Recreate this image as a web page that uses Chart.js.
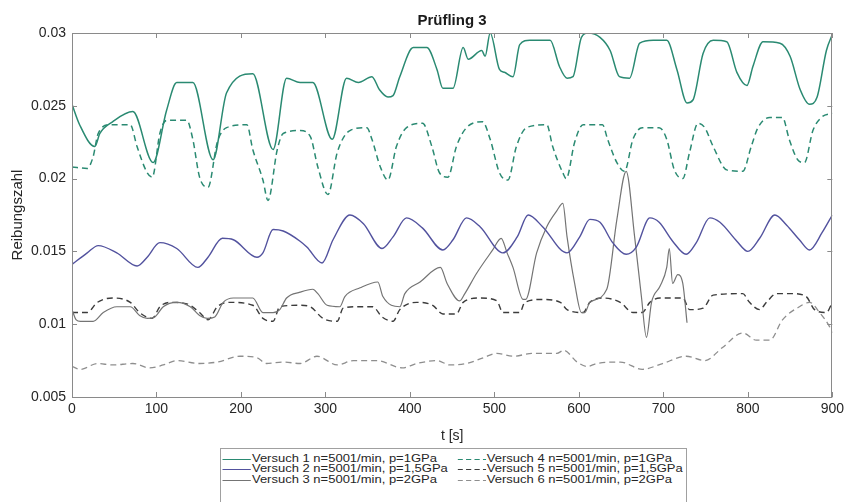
<!DOCTYPE html>
<html lang="de">
<head>
    <meta charset="UTF-8">
    <title>Prüfling 3</title>
    <script src="https://cdn.jsdelivr.net/npm/chart.js"></script>
    <style>
        body { margin: 0; background: #fff; font-family: "Liberation Sans", Arial, sans-serif; }
        #wrap { position: relative; width: 848px; height: 502px; overflow: hidden; }
        #title { position: absolute; left: 352px; top: 11px; width: 200px; text-align: center;
                 font-weight: bold; font-size: 15px; line-height: 17px; color: #1a1a1a; }
        #legend { position: absolute; left: 220px; top: 448px; width: 465px; height: 56px;
                  border: 1px solid #a0a0a0; background: #fff; }
        #legendInner { position: absolute; left: 0; top: 0; width: 358px; height: 54px;
                       transform: scaleX(1.3); transform-origin: 0 0; }
        .row { position: absolute; height: 10.5px; line-height: 10.5px; font-size: 10px; color: #262626; white-space: nowrap; }
        .row svg { position: absolute; top: 0; }
        .row span { position: absolute; top: 0; }
    </style>
</head>
<body>
<div id="wrap">
    <canvas id="chart" width="848" height="502"></canvas>
    <div id="title">Prüfling 3</div>
    <div id="legend"><div id="legendInner"></div></div>
</div>

<script>
    // values, [t in s, Reibungszahl]
    const versuch1 = [[0,0.0251],[9,0.0237],[27,0.0222],[33,0.0231],[48,0.0239],[72,0.0246],[96,0.0211],[112,0.0247],[124,0.0266],[143,0.0266],
        [167,0.0213],[183,0.0259],[214,0.0272],[238,0.0220],[254,0.0269],[270,0.0266],[285,0.0266],[308,0.0227],[325,0.0269],[339,0.0266],
        [355,0.0270],[364,0.0261],[374,0.0256],[380,0.0257],[388,0.0270],[404,0.0290],[420,0.0290],[432,0.0275],[439,0.0262],[451,0.0262],
        [463,0.0290],[469,0.0282],[485,0.0288],[489,0.0284],[495,0.0300],[506,0.0275],[512,0.0273],[522,0.0270],[530,0.0292],[542,0.0295],
        [566,0.0295],[577,0.0277],[586,0.0269],[593,0.0270],[603,0.0297],[611,0.0300],[625,0.0297],[637,0.0288],[648,0.0270],[660,0.0269],
        [672,0.0293],[688,0.0295],[704,0.0295],[716,0.0275],[728,0.0252],[735,0.0254],[747,0.0286],[759,0.0295],[775,0.0294],[787,0.0273],
        [799,0.0264],[806,0.0277],[818,0.0294],[838,0.0293],[850,0.0284],[862,0.0261],[873,0.0251],[882,0.0256],[893,0.0288],[900,0.0299]];

    const versuch2 = [[0,0.0141],[18,0.0149],[31,0.0154],[53,0.0149],[77,0.0140],[89,0.0146],[104,0.0156],[124,0.0152],[149,0.0139],[161,0.0146],
        [178,0.0159],[191,0.0158],[219,0.0146],[226,0.0149],[238,0.0165],[250,0.0164],[270,0.0157],[278,0.0153],[296,0.0142],[309,0.0158],
        [329,0.0175],[345,0.0169],[367,0.0152],[380,0.0160],[396,0.0173],[415,0.0166],[439,0.0151],[451,0.0158],[467,0.0173],[483,0.0167],
        [510,0.0149],[527,0.0160],[540,0.0175],[557,0.0167],[586,0.0149],[601,0.0160],[613,0.0172],[625,0.0170],[640,0.0156],[656,0.0148],
        [668,0.0153],[684,0.0173],[695,0.0170],[711,0.0157],[727,0.0148],[739,0.0156],[755,0.0173],[767,0.0170],[787,0.0157],[800,0.0150],
        [814,0.0159],[832,0.0175],[846,0.0168],[861,0.0158],[873,0.0151],[888,0.0163],[900,0.0175]];

    const versuch3 = [[0,0.0110],[5,0.0103],[10,0.0102],[25,0.0102],[37,0.0108],[53,0.0112],[69,0.0112],[80,0.0106],[89,0.0104],[98,0.0105],
        [108,0.0112],[124,0.0115],[140,0.0112],[151,0.0106],[160,0.0104],[169,0.0105],[179,0.0115],[191,0.0118],[214,0.0118],[226,0.0108],
        [238,0.0108],[246,0.0110],[254,0.0118],[270,0.0122],[285,0.0124],[291,0.0121],[302,0.0113],[317,0.0112],[323,0.0119],[341,0.0125],
        [362,0.0129],[368,0.0119],[388,0.0112],[394,0.0121],[412,0.0129],[436,0.0139],[444,0.0128],[459,0.0116],[465,0.0121],[479,0.0135],
        [498,0.0151],[508,0.0159],[515,0.0149],[522,0.0139],[534,0.0117],[537,0.0117],[550,0.0149],[562,0.0167],[574,0.0178],[581,0.0183],
        [586,0.0160],[595,0.0128],[603,0.0108],[607,0.0108],[613,0.0115],[633,0.0124],[645,0.0172],[656,0.0205],[666,0.0160],[674,0.0119],
        [680,0.0091],[686,0.0115],[696,0.0126],[704,0.0139],[707,0.0152],[711,0.0128],[717,0.0134],[723,0.0128],[728,0.0101]];

    const versuch4 = [[0,0.0208],[18,0.0207],[25,0.0215],[31,0.0231],[45,0.0237],[69,0.0237],[77,0.0222],[89,0.0204],[95,0.0201],[104,0.0231],
        [112,0.0240],[136,0.0240],[143,0.0227],[151,0.0201],[161,0.0194],[172,0.0225],[183,0.0235],[207,0.0237],[214,0.0220],[226,0.0199],
        [232,0.0185],[243,0.0220],[250,0.0231],[270,0.0233],[282,0.0229],[291,0.0208],[303,0.0189],[314,0.0218],[329,0.0233],[349,0.0235],
        [355,0.0227],[365,0.0208],[374,0.0199],[384,0.0222],[396,0.0235],[415,0.0238],[426,0.0222],[435,0.0204],[445,0.0201],[455,0.0222],
        [467,0.0235],[486,0.0239],[495,0.0227],[506,0.0204],[516,0.0199],[526,0.0222],[538,0.0235],[562,0.0237],[569,0.0222],[581,0.0204],
        [585,0.0200],[595,0.0225],[605,0.0237],[628,0.0237],[634,0.0227],[645,0.0211],[654,0.0205],[664,0.0227],[675,0.0235],[695,0.0235],
        [704,0.0227],[713,0.0206],[723,0.0200],[731,0.0218],[741,0.0238],[749,0.0235],[759,0.0222],[775,0.0206],[794,0.0205],[804,0.0222],
        [812,0.0235],[826,0.0242],[841,0.0242],[849,0.0227],[859,0.0213],[867,0.0211],[877,0.0233],[887,0.0242],[900,0.0245]];

    const versuch5 = [[0,0.0108],[18,0.0108],[30,0.0115],[48,0.0118],[69,0.0115],[80,0.0108],[95,0.0104],[104,0.0112],[116,0.0115],[136,0.0114],
        [151,0.0108],[161,0.0103],[172,0.0112],[187,0.0115],[214,0.0113],[226,0.0104],[238,0.0102],[246,0.0112],[270,0.0113],[282,0.0112],
        [297,0.0104],[314,0.0102],[321,0.0111],[337,0.0112],[356,0.0112],[367,0.0105],[380,0.0102],[388,0.0110],[408,0.0115],[427,0.0113],
        [439,0.0107],[455,0.0107],[463,0.0115],[483,0.0118],[503,0.0116],[510,0.0108],[530,0.0108],[536,0.0115],[557,0.0117],[578,0.0115],
        [586,0.0110],[605,0.0108],[613,0.0115],[628,0.0118],[649,0.0115],[664,0.0108],[675,0.0108],[684,0.0115],[696,0.0118],[723,0.0118],
        [731,0.0110],[747,0.0111],[759,0.0120],[794,0.0121],[802,0.0115],[814,0.0110],[822,0.0115],[834,0.0121],[853,0.0121],[869,0.0119],
        [879,0.0110],[893,0.0108],[900,0.0115]];

    const versuch6 = [[0,0.0071],[10,0.0069],[30,0.0073],[48,0.0072],[72,0.0073],[92,0.0070],[108,0.0072],[124,0.0075],[151,0.0073],[172,0.0074],
        [199,0.0078],[219,0.0077],[230,0.0073],[250,0.0074],[270,0.0073],[290,0.0078],[314,0.0072],[333,0.0075],[361,0.0075],[391,0.0070],
        [408,0.0073],[432,0.0075],[447,0.0072],[467,0.0073],[487,0.0077],[503,0.0080],[522,0.0078],[546,0.0080],[574,0.0080],[582,0.0082],
        [598,0.0074],[610,0.0071],[621,0.0073],[649,0.0074],[675,0.0069],[699,0.0073],[727,0.0078],[749,0.0075],[770,0.0084],[794,0.0094],
        [810,0.0089],[826,0.0089],[841,0.0103],[861,0.0112],[873,0.0115],[885,0.0108],[897,0.0098],[900,0.0094]];

    const seriesLabels = [
        'Versuch 1 n=5001/min, p=1GPa', 'Versuch 2 n=5001/min, p=1,5GPa', 'Versuch 3 n=5001/min, p=2GPa',
        'Versuch 4 n=5001/min, p=1GPa', 'Versuch 5 n=5001/min, p=1,5GPa', 'Versuch 6 n=5001/min, p=2GPa'
    ];
    const xTicks = [0, 100, 200, 300, 400, 500, 600, 700, 800, 900];
    const xTickLabels = ['0', '100', '200', '300', '400', '500', '600', '700', '800', '900'];
    const yTicks = [0.005, 0.01, 0.015, 0.02, 0.025, 0.03];
    const yTickLabels = ['0.005', '0.01', '0.015', '0.02', '0.025', '0.03'];

    const allSeries = [versuch1, versuch2, versuch3, versuch4, versuch5, versuch6];
    const colors = ['#2a8a72', '#52529e', '#747474', '#2a8a72', '#3c3c3c', '#8e8e8e'];
    const dashes = [[], [], [], [6, 4], [6, 4], [6, 4]];
    const widths = [1.5, 1.4, 1.2, 1.5, 1.4, 1.3];

    const datasets = allSeries.map((s, i) => ({
        label: seriesLabels[i],
        data: s.map(p => ({ x: p[0], y: p[1] })),
        borderColor: colors[i],
        borderWidth: widths[i],
        borderDash: dashes[i],
        pointRadius: 0,
        fill: false,
        tension: 0.3,
        cubicInterpolationMode: 'monotone'
    }));

    // box round the plot with small inward ticks, like the original figure
    const boxPlugin = {
        id: 'box',
        afterDatasetsDraw(chart) {
            const { ctx, chartArea: a, scales } = chart;
            ctx.save();
            ctx.strokeStyle = '#8a8a8a';
            ctx.lineWidth = 1;
            ctx.strokeRect(Math.round(a.left) + 0.5, Math.round(a.top) + 0.5,
                Math.round(a.right - a.left) - 1, Math.round(a.bottom - a.top));
            ctx.beginPath();
            xTicks.forEach(v => {
                const px = Math.round(scales.x.getPixelForValue(v)) + 0.5;
                ctx.moveTo(px, a.bottom); ctx.lineTo(px, a.bottom - 5);
                ctx.moveTo(px, a.top); ctx.lineTo(px, a.top + 5);
            });
            yTicks.forEach(v => {
                const py = Math.round(scales.y.getPixelForValue(v)) + 0.5;
                ctx.moveTo(a.left, py); ctx.lineTo(a.left + 5, py);
                ctx.moveTo(a.right, py); ctx.lineTo(a.right - 5, py);
            });
            ctx.stroke();
            ctx.restore();
        }
    };

    const tickFont = { family: '"Liberation Sans", Arial, sans-serif', size: 14 };
    const labelFont = { family: '"Liberation Sans", Arial, sans-serif', size: 15 };

    new Chart(document.getElementById('chart').getContext('2d'), {
        type: 'line',
        data: { datasets: datasets },
        options: {
            responsive: false,
            animation: false,
            devicePixelRatio: 1,
            layout: { padding: { top: 33, right: 15, left: 0, bottom: 0 } },
            plugins: { legend: { display: false }, tooltip: { enabled: false }, title: { display: false } },
            scales: {
                x: {
                    type: 'linear',
                    min: 0, max: 900,
                    afterBuildTicks: s => { s.ticks = xTicks.map(v => ({ value: v })); },
                    afterFit: s => { s.height = 105; },
                    grid: { display: false, drawTicks: false },
                    border: { display: false },
                    ticks: { padding: 4, color: '#262626', font: tickFont, maxRotation: 0,
                             callback: (v, i) => xTickLabels[i] },
                    title: { display: true, text: 't [s]', color: '#262626', font: tickFont,
                             padding: { top: 0, bottom: 57 } }
                },
                y: {
                    min: 0.005, max: 0.03,
                    afterBuildTicks: s => { s.ticks = yTicks.map(v => ({ value: v })); },
                    afterFit: s => { s.width = 72; },
                    grid: { display: false, drawTicks: false },
                    border: { display: false },
                    ticks: { padding: 6, color: '#262626', font: tickFont,
                             callback: (v, i) => yTickLabels[i] },
                    title: { display: true, text: 'Reibungszahl', color: '#262626', font: labelFont,
                             padding: { top: 9, bottom: 0 } }
                }
            }
        },
        plugins: [boxPlugin]
    });

    // legend in two columns, as in the figure
    const legendInner = document.getElementById('legendInner');
    datasets.forEach((d, i) => {
        const col = Math.floor(i / 3), row = i % 3;
        const div = document.createElement('div');
        div.className = 'row';
        div.style.left = (col === 0 ? 0.8 : 181.5) + 'px';
        div.style.top = (4.75 + row * 10.5) + 'px';
        const dash = d.borderDash.length ? 'stroke-dasharray="4,2.5"' : '';
        div.innerHTML = '<svg width="22" height="10.5"><line x1="0" y1="5.5" x2="22" y2="5.5" stroke="' +
            d.borderColor + '" stroke-width="1" ' + dash + '/></svg><span style="left:23px">' + d.label + '</span>';
        legendInner.appendChild(div);
    });
</script>
</body>
</html>
